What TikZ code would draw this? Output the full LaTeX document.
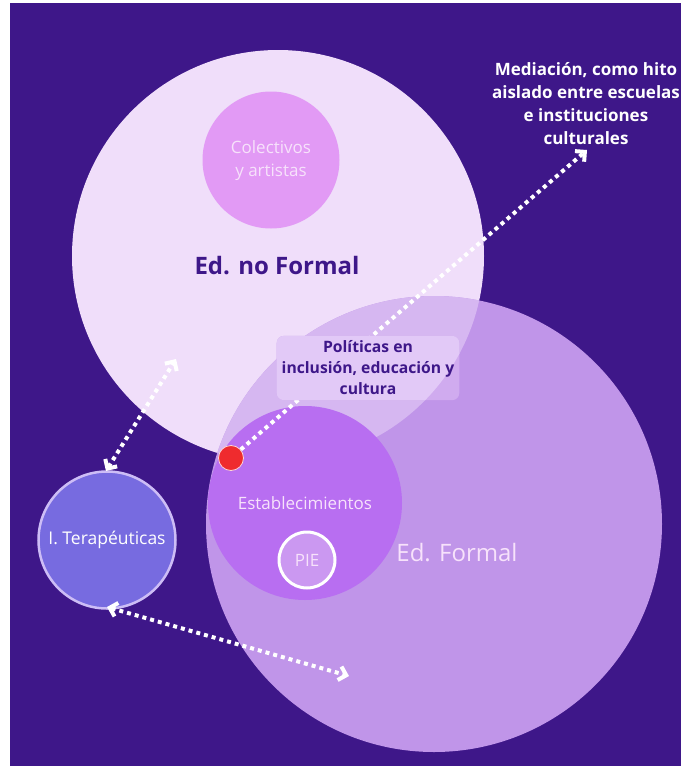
\documentclass[tikz,border=0pt]{standalone}
\usepackage{fontspec}
\setmainfont{Open Sans}
\usetikzlibrary{arrows.meta}
\definecolor{bgpurple}{HTML}{3E1789}
\definecolor{nfcol}{HTML}{F0DEFA}
\definecolor{colcol}{HTML}{E29AF5}
\definecolor{fcol}{HTML}{C095E9}
\definecolor{ovcol}{HTML}{D6B7F1}
\definecolor{estcol}{HTML}{B86EF1}
\definecolor{piecol}{HTML}{CB98F1}
\definecolor{tercol}{HTML}{776BE0}
\definecolor{terborder}{HTML}{CDBDF6}
\definecolor{reddot}{HTML}{EF2B2E}
\definecolor{lighttext}{HTML}{F7E2FB}
\definecolor{boxcol}{HTML}{D0ABEF}
\definecolor{boxlight}{HTML}{E2C9F7}
\tikzset{
  disc/.style={circle, inner sep=0pt, draw=none},
  dotarrow/.style={draw=white, line width=4pt, line cap=butt, dash pattern=on 4pt off 4pt},
  lbl/.style={align=center, inner sep=0pt},
}
\begin{document}
\begin{tikzpicture}[x=1pt,y=-1pt]
\useasboundingbox (0,0) rectangle (681,766);
\fill[white] (0,0) rectangle (681,766);
\fill[bgpurple] (10,3) rectangle (681,766);

% Ed. no Formal
\node[disc, fill=nfcol, minimum size=412pt] (noformal) at (278,256) {};
% Colectivos
\node[disc, fill=colcol, minimum size=137pt] (colect) at (271,160) {};
\node[lbl, text=lighttext, font=\fontsize{17}{23}\selectfont] (colectt) at (271,161) {Colectivos\\y artistas};
\node[lbl, text=bgpurple, font=\fontsize{24}{28}\selectfont\bfseries] (nft) at (277,266) {Ed. no Formal};

% Ed. Formal
\node[disc, fill=fcol, minimum size=456pt] (formal) at (434,524) {};
\begin{scope}
  \clip (noformal.center) circle[radius=206pt];
  \fill[ovcol] (formal.center) circle[radius=228pt];
\end{scope}
\node[lbl, text=lighttext, font=\fontsize{24}{28}\selectfont] (ft) at (457,553) {Ed. Formal};

% Establecimientos
\node[disc, fill=estcol, minimum size=194pt] (estab) at (305,503) {};
\node[lbl, text=lighttext, font=\fontsize{17}{20}\selectfont] (estabt) at (305,503) {Establecimientos};
\node[disc, fill=piecol, draw=white, line width=3pt, minimum size=56pt, text=lighttext, font=\fontsize{17}{20}\selectfont] (pie) at (307,560) {PIE};

% I. Terapeuticas
\node[disc, fill=tercol, draw=terborder, line width=2.5pt, minimum size=137pt, text=white, font=\fontsize{17.5}{20}\selectfont] (ter) at (107,540) {I. Terapéuticas};

% Mediacion text
\node[lbl, text=white, font=\fontsize{17}{23}\selectfont\bfseries] (med) at (586,104) {Mediación, como hito\\aislado entre escuelas\\e instituciones\\culturales};

% red dot
\node[disc, fill=reddot, draw=white!80!reddot, line width=0.8pt, minimum size=25pt] (red) at (231,458) {};

% connectors
\coordinate (a1e) at (587,150);
\coordinate (a2s) at (106,471);
\coordinate (a2e) at (176,359);
\coordinate (a3s) at (107,607);
\coordinate (a3e) at (349,676);
\draw[dotarrow, -{Straight Barb[length=7pt,width=14pt]}] (red) -- (a1e);
\draw[dotarrow, {Straight Barb[length=7pt,width=14pt]}-{Straight Barb[length=7pt,width=14pt]}] (a2s) -- (a2e);
\draw[dotarrow, {Straight Barb[length=7pt,width=14pt]}-{Straight Barb[length=7pt,width=14pt]}] (a3s) -- (a3e);

% Politicas box (covers the connector)
\node[lbl, fill=boxcol, rounded corners=7pt, inner xsep=5pt, inner ysep=5pt,
  path picture={\fill[boxlight] (noformal.center) circle[radius=206pt];},
  text=bgpurple, font=\fontsize{15.7}{21}\selectfont\bfseries] (polit) at (368,368) {Políticas en\\inclusión, educación y\\cultura};
\end{tikzpicture}
\end{document}
